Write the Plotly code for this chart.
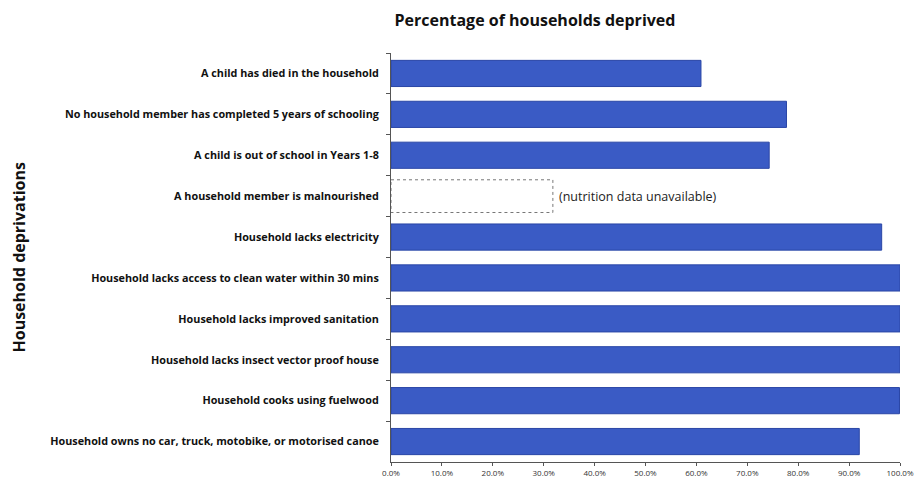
import plotly.graph_objects as go

categories = [
    "A child has died in the household",
    "No household member has completed 5 years of schooling",
    "A child is out of school in Years 1-8",
    "A household member is malnourished",
    "Household lacks electricity",
    "Household lacks access to clean water within 30 mins",
    "Household lacks improved sanitation",
    "Household lacks insect vector proof house",
    "Household cooks using fuelwood",
    "Household owns no car, truck, motobike, or motorised canoe",
]
values = [0.609, 0.777, 0.743, None, 0.964, 1.0, 1.0, 1.0, 0.999, 0.92]
unavailable_category = "A household member is malnourished"
unavailable_placeholder = 0.318
unavailable_note = "(nutrition data unavailable)"
x_ticks = [i / 10 for i in range(11)]
y_title = "Household deprivations"
chart_title = "Percentage of households deprived"

W, H = 914, 481
L, R, T, B = 391, 14, 53, 19
bar_width = 0.64
fig = go.Figure()
fig.add_trace(go.Bar(
    y=categories, x=values, orientation="h", width=bar_width,
    marker=dict(color="#3a5bc5", line=dict(color="#2a46a6", width=1)),
    hoverinfo="x+y",
))

idx = categories.index(unavailable_category)
fig.add_shape(type="rect", xref="x", yref="y",
              x0=0, x1=unavailable_placeholder,
              y0=idx - 0.4, y1=idx + 0.4,
              line=dict(color="#777777", width=1, dash="dot"))
fig.add_annotation(x=unavailable_placeholder, y=unavailable_category, xref="x", yref="y",
                   text=unavailable_note, showarrow=False, xanchor="left", xshift=4,
                   font=dict(size=12.5, color="#222222", family="Open Sans"))

pw = W - L - R
fig.add_annotation(x=(18 - L) / pw, y=0.5, xref="paper", yref="paper",
                   text="<b>" + y_title + "</b>", textangle=-90, showarrow=False,
                   xanchor="center", yanchor="middle",
                   font=dict(size=16, color="#111111", family="Open Sans"))

fig.update_layout(
    width=W, height=H,
    margin=dict(l=L, r=R, t=T, b=B),
    paper_bgcolor="white", plot_bgcolor="white",
    showlegend=False,
    title=dict(text="<b>" + chart_title + "</b>", x=535 / W, xanchor="center",
               y=1 - 20 / H, yanchor="middle",
               font=dict(size=16, color="#111111", family="Open Sans")),
    font=dict(family="Open Sans", color="#111111"),
)
fig.update_xaxes(range=[0, 1.0], tickvals=x_ticks, tickformat=".1%", automargin=False,
                 showgrid=False, zeroline=False, showline=True, linecolor="#555555",
                 ticks="outside", ticklen=3, tickcolor="#555555",
                 tickfont=dict(size=8, color="#333333"))
fig.update_yaxes(autorange="reversed", showgrid=False, showline=True, linecolor="#555555",
                 automargin=False,
                 ticks="outside", tickson="boundaries", ticklen=4, tickcolor="#555555",
                 tickfont=dict(size=10.8, color="#111111", family="Open Sans", weight="bold"),
                 ticklabelstandoff=9)
fig.write_html("out.html", config={"displayModeBar": False},
               post_script="document.body.style.margin='0';document.body.style.overflow='hidden';")
